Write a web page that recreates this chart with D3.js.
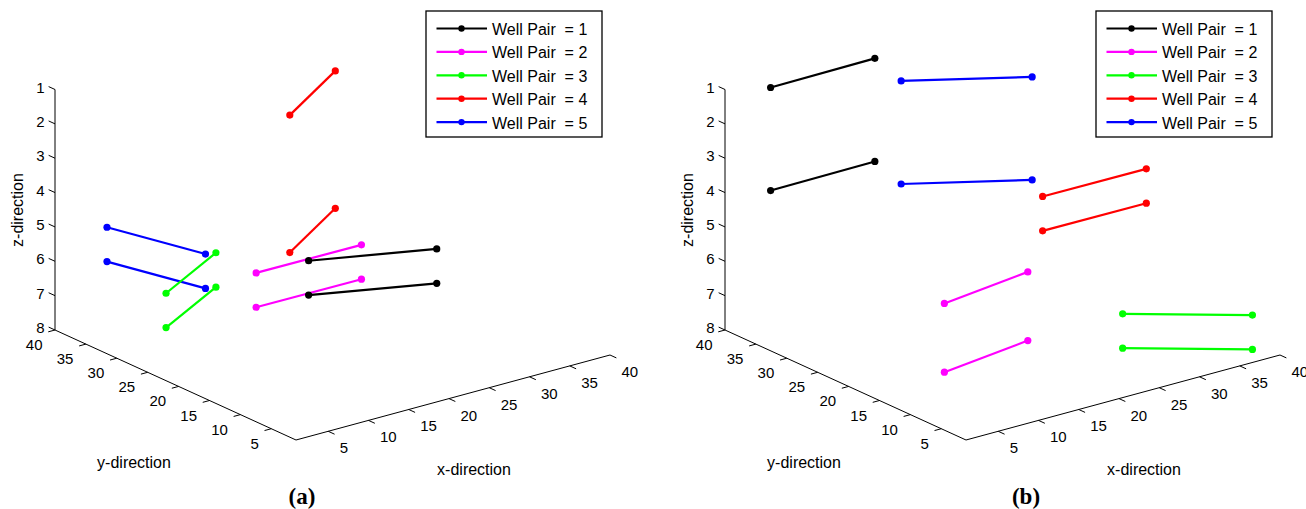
<!DOCTYPE html>
<html>
<head>
<meta charset="utf-8">
<script src="https://cdn.jsdelivr.net/npm/d3@7"></script>
<style>
  html, body { margin: 0; padding: 0; background: #fff; }
  svg { display: block; }
  text { font-family: "Liberation Sans", Arial, Helvetica, sans-serif; fill: #000; }
</style>
</head>
<body>
<svg id="chart" width="1306" height="509"></svg>
<script>
// ---------------- data ----------------
const wellPairs = [1, 2, 3, 4, 5];
const legendLabels = wellPairs.map(d => "Well Pair  = " + d);
const xTicks = [5, 10, 15, 20, 25, 30, 35, 40];
const yTicks = [5, 10, 15, 20, 25, 30, 35, 40];
const zTicks = [1, 2, 3, 4, 5, 6, 7, 8];

// Panel (a): heel/toe grid positions of each well pair, injector & producer layers
const aHeelX = [15.0, 14.7, 4.2, 20.8, 5.0];
const aHeelY = [17.2, 25.3, 26.2, 27.8, 36.8];
const aToeX  = [27.0, 27.7, 15.0, 31.9, 8.1];
const aToeY  = [12.1, 25.2, 32.2, 34.9, 24.9];
const aInjZ  = [5, 6, 6, 2, 5];
const aProdZ = [6, 7, 7, 6, 6];

// Panel (b)
const bHeelX = [4.9, 10.9, 28.9, 25.1, 16.2];
const bHeelY = [37.7, 17.4, 12.0, 20.0, 31.3];
const bToeX  = [18.0, 22.8, 38.8, 37.9, 27.1];
const bToeY  = [37.9, 19.4, 3.9, 19.9, 24.3];
const bInjZ  = [1, 6, 7, 4, 1];
const bProdZ = [4, 8, 8, 5, 4];

// ---------------- style ----------------
const wellColors = ["#000000", "#ff00ff", "#00ff00", "#ff0000", "#0000ff"];

const svg = d3.select("#chart");

// 3-D projection built from linear scales (fraction of each axis span)
const fx = d3.scaleLinear().domain([1, 40]).range([0, 1]);
const fy = d3.scaleLinear().domain([1, 40]).range([0, 1]);
const fz = d3.scaleLinear().domain([8, 1]).range([0, 1]);
const EX = [314, -85], EY = [-241, -110], EZ = [0, -240.5];

function norm(v) { const l = Math.hypot(v[0], v[1]); return [v[0] / l, v[1] / l]; }
const dirX = norm([-EY[0], -EY[1]]);   // x ticks point toward -y
const dirY = norm([-EX[0], -EX[1]]);   // y ticks point toward -x
const dirZ = norm([EY[0], EY[1]]);     // z ticks point toward +y
const tickLen = 7;

function makePanel(opt) {
  const g = svg.append("g");
  const P = (x, y, z) => [
    opt.ox + fx(x) * EX[0] + fy(y) * EY[0] + fz(z) * EZ[0],
    opt.oy + fx(x) * EX[1] + fy(y) * EY[1] + fz(z) * EZ[1]
  ];
  const line = d3.line();
  const axisStyle = s => s.attr("stroke", "#000").attr("stroke-width", 1).attr("fill", "none");

  // axes
  g.append("path").attr("d", line([P(1, 1, 8), P(40, 1, 8)])).call(axisStyle);
  g.append("path").attr("d", line([P(1, 1, 8), P(1, 40, 8)])).call(axisStyle);
  g.append("path").attr("d", line([P(1, 40, 8), P(1, 40, 1)])).call(axisStyle);

  // x ticks
  xTicks.forEach(t => {
    const p = P(t, 1, 8);
    g.append("path").attr("d", line([p, [p[0] + dirX[0] * tickLen, p[1] + dirX[1] * tickLen]])).call(axisStyle);
    g.append("text").attr("x", p[0] + 11.5).attr("y", p[1] + 16.5)
      .attr("text-anchor", "start").attr("dominant-baseline", "central")
      .attr("font-size", 15).text(t);
  });
  // y ticks
  yTicks.forEach(t => {
    const p = P(1, t, 8);
    g.append("path").attr("d", line([p, [p[0] + dirY[0] * tickLen, p[1] + dirY[1] * tickLen]])).call(axisStyle);
    g.append("text").attr("x", p[0] - 12.5).attr("y", p[1] + 14.5)
      .attr("text-anchor", "end").attr("dominant-baseline", "central")
      .attr("font-size", 15).text(t);
  });
  // z ticks
  zTicks.forEach(t => {
    const p = P(1, 40, t);
    g.append("path").attr("d", line([p, [p[0] + dirZ[0] * tickLen, p[1] + dirZ[1] * tickLen]])).call(axisStyle);
    g.append("text").attr("x", p[0] - 10.5).attr("y", p[1] - 2.5)
      .attr("text-anchor", "end").attr("dominant-baseline", "central")
      .attr("font-size", 15).text(t);
  });

  // axis titles
  g.append("text").attr("x", opt.ox - 162).attr("y", 462)
    .attr("text-anchor", "middle").attr("dominant-baseline", "central")
    .attr("font-size", 16).text("y-direction");
  g.append("text").attr("x", opt.ox + 178).attr("y", 469)
    .attr("text-anchor", "middle").attr("dominant-baseline", "central")
    .attr("font-size", 16).text("x-direction");
  g.append("text")
    .attr("transform", `translate(${opt.ox - 279},210) rotate(-90)`)
    .attr("text-anchor", "middle").attr("dominant-baseline", "central")
    .attr("font-size", 16).text("z-direction");

  // wells: draw in reverse order so pair 1 ends on top
  const order = wellPairs.map((d, i) => i).reverse();
  order.forEach(i => {
    [opt.injZ[i], opt.prodZ[i]].forEach(z => {
      const a = P(opt.heelX[i], opt.heelY[i], z);
      const b = P(opt.toeX[i], opt.toeY[i], z);
      g.append("path").attr("d", line([a, b]))
        .attr("stroke", wellColors[i]).attr("stroke-width", 2.2).attr("fill", "none");
      [a, b].forEach(p => g.append("circle").attr("cx", p[0]).attr("cy", p[1])
        .attr("r", 3.6).attr("fill", wellColors[i]));
    });
  });

  // legend
  const lx = opt.ox + 130, ly = 11, lw = 176, lh = 126;
  const lg = g.append("g");
  lg.append("rect").attr("x", lx).attr("y", ly).attr("width", lw).attr("height", lh)
    .attr("fill", "#fff").attr("stroke", "#000").attr("stroke-width", 1.3);
  wellPairs.forEach((d, i) => {
    const yy = 28.5 + i * 23.4;
    lg.append("line").attr("x1", lx + 10.5).attr("x2", lx + 61).attr("y1", yy).attr("y2", yy)
      .attr("stroke", wellColors[i]).attr("stroke-width", 2.2);
    lg.append("circle").attr("cx", lx + 35.5).attr("cy", yy).attr("r", 3.2).attr("fill", wellColors[i]);
    lg.append("text").attr("x", lx + 66).attr("y", yy + 1)
      .attr("dominant-baseline", "central").attr("font-size", 16)
      .style("white-space", "pre").text(legendLabels[i]);
  });

  // caption
  svg.append("text").attr("x", opt.capX).attr("y", 496)
    .attr("text-anchor", "middle").attr("dominant-baseline", "central")
    .style("font-family", "'Liberation Serif', 'Times New Roman', serif")
    .attr("font-weight", "bold").attr("font-size", 23).text(opt.caption);
}

makePanel({ ox: 296, oy: 440, caption: "(a)", capX: 302,
  heelX: aHeelX, heelY: aHeelY, toeX: aToeX, toeY: aToeY, injZ: aInjZ, prodZ: aProdZ });
makePanel({ ox: 966, oy: 440, caption: "(b)", capX: 1026,
  heelX: bHeelX, heelY: bHeelY, toeX: bToeX, toeY: bToeY, injZ: bInjZ, prodZ: bProdZ });
</script>
</body>
</html>
